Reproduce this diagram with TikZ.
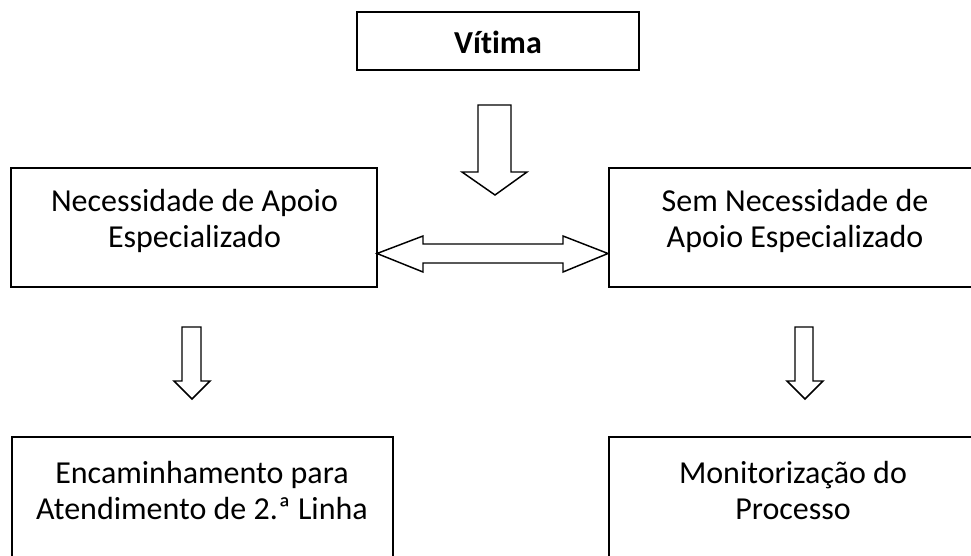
\documentclass[tikz,border=0pt]{standalone}
\usepackage{fontspec}
\setmainfont{Carlito}[Ligatures=NoCommon]
\begin{document}
\begin{tikzpicture}[x=0.75pt,y=-0.75pt,
  box/.style={draw=black, line width=1.1pt, rectangle, inner sep=0pt},
  txt/.style={align=center, inner sep=0pt, font=\fontsize{24}{27.5}\selectfont},
  blockarrow/.style={draw=black, line width=1.1pt, fill=white, line join=miter}]
\useasboundingbox (0,0) rectangle (971,556);
\clip (0,0) rectangle (971,556);
% boxes
\node[box, minimum width=211.5pt, minimum height=43.5pt] (vit) at (498,41) {};
\node[box, minimum width=274.5pt, minimum height=89.25pt] (nec) at (194,227.5) {};
\node[box, minimum width=282pt, minimum height=89.25pt] (sem) at (797,227.5) {};
\node[box, minimum width=285.75pt, minimum height=107.25pt] (enc) at (202.5,508.5) {};
\node[box, minimum width=282pt, minimum height=107.25pt] (mon) at (797,508.5) {};
% texts
\node[txt, font=\fontsize{24}{27.5}\selectfont\bfseries, anchor=base] (tvit) at (498,54) {Vítima};
\node[txt] (tnec) at (194.5,222) {\strut Necessidade de Apoio\\\strut Especializado};
\node[txt] (tsem) at (795,222) {\strut Sem Necessidade de\\\strut Apoio Especializado};
\node[txt] (tenc) at (202,494) {\strut Encaminhamento para\\\strut Atendimento de 2.ª Linha};
\node[txt] (tmon) at (793,494) {\strut Monitorização do\\\strut Processo};
% block arrows
\draw[blockarrow] (478,105) -- (511,105) -- (511,172) -- (527,172) -- (495,195) -- (462,172) -- (478,172) -- cycle;
\draw[blockarrow] (377,253.5) -- (423,236) -- (423,244) -- (563,244) -- (563,236) -- (608,253.5) -- (563,272) -- (563,263) -- (423,263) -- (423,272) -- cycle;
\draw[blockarrow] (182,327) -- (201,327) -- (201,381) -- (210,381) -- (192,399) -- (174,381) -- (182,381) -- cycle;
\draw[blockarrow] (795,327) -- (813,327) -- (813,381) -- (823,381) -- (805,399) -- (787,381) -- (795,381) -- cycle;
\end{tikzpicture}
\end{document}
